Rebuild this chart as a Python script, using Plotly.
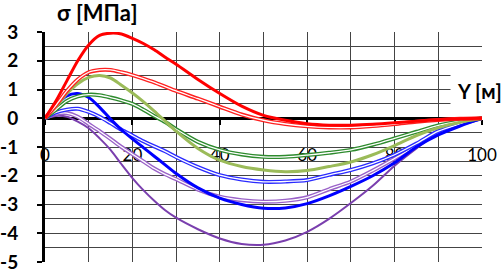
import plotly.graph_objects as go

# Positions along Y [м]
Y_POS = [0, 2.5, 5, 7.5, 10, 12.5, 15, 17.5, 20, 22.5, 25, 27.5, 30, 35, 40, 45, 50,
         55, 60, 65, 70, 75, 80, 85, 90, 95, 100]

RED_THICK = [0, 0.6, 1.3, 2.0, 2.55, 2.88, 2.96, 2.93, 2.78, 2.6, 2.38, 2.12, 1.88, 1.35,
             0.86, 0.42, 0.1, -0.07, -0.19, -0.24, -0.24, -0.21, -0.16, -0.1, -0.05, -0.02, 0]
RED_DOUBLE = [0, 0.45, 0.95, 1.35, 1.6, 1.68, 1.68, 1.6, 1.5, 1.38, 1.25, 1.1, 0.95, 0.68,
              0.4, 0.13, -0.07, -0.2, -0.28, -0.32, -0.32, -0.27, -0.2, -0.12, -0.06, -0.02, 0]
OLIVE = [0, 0.4, 0.85, 1.2, 1.42, 1.49, 1.4, 1.15, 0.88, 0.58, 0.25, -0.1, -0.45, -1.05,
         -1.46, -1.68, -1.8, -1.86, -1.82, -1.68, -1.52, -1.27, -0.95, -0.6, -0.33, -0.14, 0]
GREEN_DOUBLE = [0, 0.3, 0.6, 0.76, 0.82, 0.8, 0.72, 0.62, 0.5, 0.3, 0.08, -0.13, -0.38, -0.82,
                -1.1, -1.26, -1.34, -1.34, -1.28, -1.2, -1.1, -0.92, -0.7, -0.47, -0.25, -0.1, 0]
BLUE_THICK = [0, 0.45, 0.78, 0.86, 0.72, 0.38, -0.03, -0.4, -0.72, -1.02, -1.32, -1.62, -1.92,
              -2.42, -2.78, -3.0, -3.13, -3.12, -2.97, -2.7, -2.37, -2.0, -1.55, -1.0, -0.58, -0.27, 0]
BLUE_DOUBLE = [0, 0.2, 0.3, 0.33, 0.22, 0.05, -0.17, -0.4, -0.6, -0.8, -0.98, -1.15, -1.35,
               -1.7, -1.98, -2.13, -2.21, -2.2, -2.15, -1.97, -1.8, -1.57, -1.27, -0.88, -0.45, -0.2, 0]
PURPLE_DOUBLE = [0, 0.15, 0.18, 0.05, -0.2, -0.45, -0.72, -1.0, -1.25, -1.5, -1.75, -1.95, -2.12,
                 -2.48, -2.73, -2.85, -2.9, -2.87, -2.75, -2.47, -2.2, -1.82, -1.4, -0.95, -0.5, -0.22, 0]
PURPLE_THICK = [0, 0.08, 0.05, -0.12, -0.35, -0.7, -1.1, -1.6, -2.08, -2.5, -2.87, -3.2, -3.46,
                -3.86, -4.18, -4.37, -4.4, -4.25, -3.95, -3.5, -2.95, -2.35, -1.65, -1.05, -0.5, -0.22, 0]

Y_TICKS = [-5, -4, -3, -2, -1, 0, 1, 2, 3]
Y_TICK_TEXT = ["-5", "-4", "-3", "-2", "-1", "0", "1", "2", "3"]
X_TICKS = [0, 20, 40, 60, 80, 100]
X_TICK_TEXT = ["0", "20", "40", "60", "80", "100"]

FONT = "Lato"

fig = go.Figure()


def single(vals, color, width):
    fig.add_trace(go.Scatter(x=Y_POS, y=vals, mode="lines",
                             line=dict(color=color, width=width, shape="spline", smoothing=0.8),
                             showlegend=False, hoverinfo="skip"))


def double(vals, color):
    fig.add_trace(go.Scatter(x=Y_POS, y=vals, mode="lines",
                             line=dict(color=color, width=4, shape="spline", smoothing=0.8),
                             showlegend=False, hoverinfo="skip"))
    fig.add_trace(go.Scatter(x=Y_POS, y=vals, mode="lines",
                             line=dict(color="white", width=1.3, shape="spline", smoothing=0.8),
                             showlegend=False, hoverinfo="skip"))


single(PURPLE_THICK, "#7A3FAE", 2)
double(PURPLE_DOUBLE, "#9A62C8")
double(BLUE_DOUBLE, "#2B2BFF")
single(BLUE_THICK, "#0000FF", 3)
double(GREEN_DOUBLE, "#2E8B2E")
single(OLIVE, "#9BBB59", 3)
double(RED_DOUBLE, "#FF2020")
single(RED_THICK, "#FF0000", 3)

GRID = "#444444"

fig.update_layout(
    width=504, height=273,
    margin=dict(l=45, r=22, t=32, b=11, autoexpand=False),
    paper_bgcolor="white", plot_bgcolor="white",
    font=dict(family=FONT, color="black"),
    xaxis=dict(range=[0, 100], tickmode="array", tickvals=X_TICKS, ticktext=X_TICK_TEXT,
               anchor="free", position=0.625, showline=True, linecolor="black", linewidth=3,
               ticks="outside", ticklen=5, tickwidth=2, tickcolor="black",
               ticklabelstandoff=15, automargin=False,
               tickfont=dict(family=FONT, size=17, color="black"),
               showgrid=True, gridcolor=GRID, gridwidth=1,
               minor=dict(tickmode="linear", tick0=0, dtick=10, showgrid=True,
                          gridcolor=GRID, gridwidth=1, ticks=""),
               zeroline=False, layer="below traces", fixedrange=True),
    yaxis=dict(range=[-5, 3], tickmode="array", tickvals=Y_TICKS, ticktext=Y_TICK_TEXT,
               showline=True, linecolor="black", linewidth=3, mirror=False,
               ticks="outside", ticklen=5, tickwidth=2, tickcolor="black",
               ticklabelstandoff=15, automargin=False,
               tickfont=dict(family=FONT, size=19, color="black", weight="bold"),
               showgrid=True, gridcolor=GRID, gridwidth=1,
               minor=dict(tickmode="linear", tick0=0, dtick=0.5, showgrid=True,
                          gridcolor=GRID, gridwidth=1, ticks=""),
               zeroline=False, layer="below traces", fixedrange=True),
    annotations=[
        dict(text="σ [МПа]", xref="paper", yref="paper", x=0.119, y=1.083,
             xanchor="center", yanchor="middle", showarrow=False,
             font=dict(family=FONT, size=22, color="black", weight="bold")),
        dict(text="Y [м]", xref="paper", yref="y", x=0.995, y=0.95,
             xanchor="center", yanchor="middle", showarrow=False,
             bgcolor="white", borderpad=6,
             font=dict(family=FONT, size=20, color="black", weight="bold")),
    ],
)

fig.write_html("out.html", config={"displayModeBar": False},
               post_script="document.body.style.margin='0';")
